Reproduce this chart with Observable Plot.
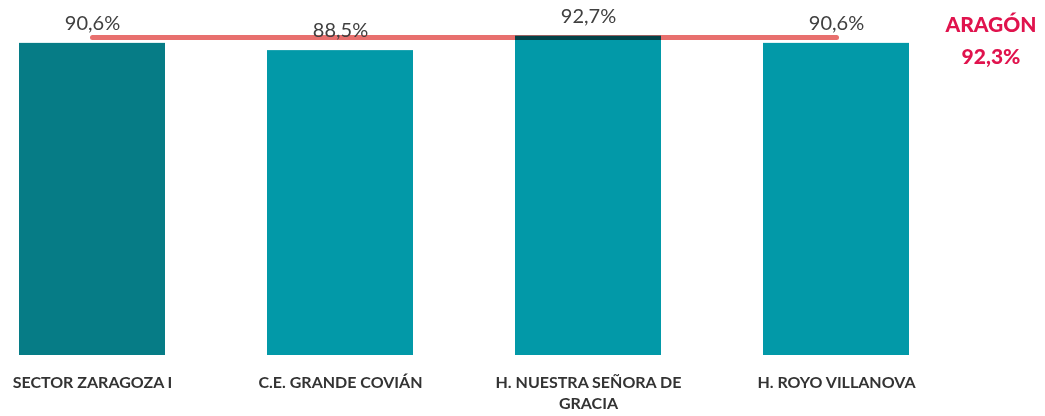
<!DOCTYPE html>
<html>
<head>
<meta charset="utf-8">
<script src="https://cdn.jsdelivr.net/npm/d3@7"></script>
<script src="https://cdn.jsdelivr.net/npm/@observablehq/plot@0.6"></script>
<style>
  html, body { margin: 0; padding: 0; background: #fff; }
  #chart svg { display: block; }
</style>
</head>
<body>
<div id="chart"></div>
<script>
const categories = ["SECTOR ZARAGOZA I", "C.E. GRANDE COVIÁN", "H. NUESTRA SEÑORA DE\nGRACIA", "H. ROYO VILLANOVA"];
const values = [90.6, 88.5, 92.7, 90.6];
const barColors = ["#067c86", "#0299a8", "#0299a8", "#0299a8"];
const aragonName = "ARAGÓN";
const aragonValue = 92.3;

const fmt = v => v.toFixed(1).replace(".", ",") + "%";
const data = categories.map((c, i) => ({cat: c, value: values[i], color: barColors[i]}));
const refLine = categories.map(c => ({cat: c, value: aragonValue}));

const chart = Plot.plot({
  width: 1045,
  height: 416,
  marginTop: 10.5,
  marginBottom: 61,
  marginLeft: 18,
  marginRight: 134.5,
  style: {fontFamily: "Lato, 'Open Sans', sans-serif", background: "#fff"},
  x: {domain: categories, paddingInner: 0.41, paddingOuter: 0, label: null},
  y: {domain: [0, 100], axis: null},
  marks: [
    Plot.barY(data, {x: "cat", y: "value", fill: "color"}),
    Plot.lineY(refLine, {x: "cat", y: "value", stroke: "#e8706e", strokeWidth: 5, mixBlendMode: "multiply"}),
    Plot.text(data, {x: "cat", y: "value", text: d => fmt(d.value), dy: -20, fontSize: 20, fill: "#404040"}),
    Plot.text([aragonValue], {frameAnchor: "right", y: d => d, text: d => aragonName + "\n" + fmt(d), dx: 80, textAnchor: "middle", lineHeight: 1.55, fontSize: 21, fontWeight: 900, fill: "#e0134d"}),
    Plot.axisX({tickSize: 0, tickPadding: 18, fontSize: 16, fontWeight: "bold", fill: "#333", lineHeight: 1.3, label: null})
  ]
});
document.getElementById("chart").appendChild(chart);
</script>
</body>
</html>
